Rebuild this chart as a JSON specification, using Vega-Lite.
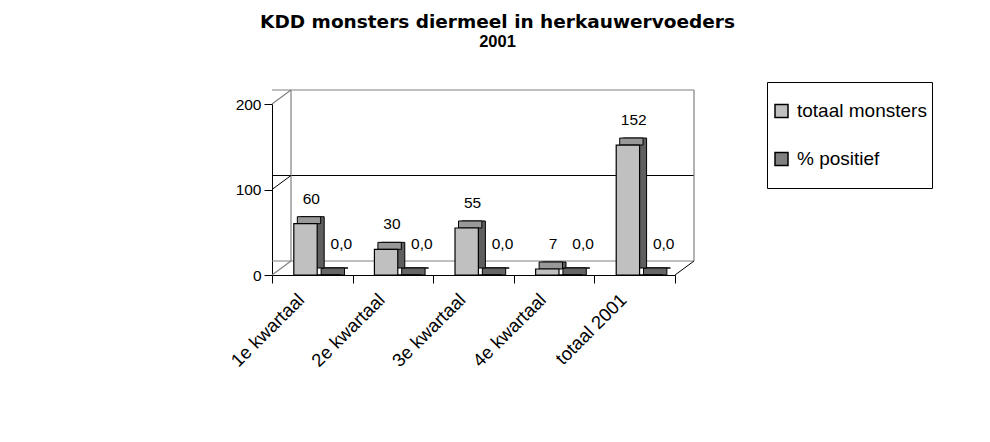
{
  "$schema": "https://vega.github.io/schema/vega-lite/v6.json",
  "width": 403,
  "height": 171,
  "autosize": "none",
  "padding": {"left": 272, "top": 104, "right": 315, "bottom": 167},
  "background": "white",
  "config": {
    "view": {"stroke": null},
    "font": "Liberation Sans",
    "locale": {"number": {"decimal": ",", "thousands": ".", "grouping": [3], "currency": ["€ ", ""]}},
    "axis": {"title": null, "grid": false, "domainColor": "black", "tickColor": "black", "labelColor": "black", "tickSize": 8, "labelFont": "Liberation Sans"},
    "axisX": {"labelAngle": -45, "labelAlign": "right", "labelBaseline": "top", "labelFontSize": 18.5, "labelOffset": -18, "labelPadding": 7, "tickBand": "extent"},
    "axisY": {"labelFontSize": 15.5, "labelPadding": 3, "tickCount": 2}
  },
  "title": {
    "text": "KDD monsters diermeel in herkauwervoeders",
    "subtitle": "2001",
    "font": "DejaVu Sans",
    "fontSize": 18.5,
    "fontWeight": "bold",
    "color": "black",
    "subtitleFont": "Liberation Sans",
    "subtitleFontSize": 16.5,
    "subtitleFontWeight": "bold",
    "subtitleColor": "black",
    "subtitlePadding": 3,
    "anchor": "middle",
    "dx": 24,
    "offset": 31
  },
  "data": {
    "values": [
      {"kwartaal": "1e kwartaal", "reeks": "totaal monsters", "waarde": 60},
      {"kwartaal": "2e kwartaal", "reeks": "totaal monsters", "waarde": 30},
      {"kwartaal": "3e kwartaal", "reeks": "totaal monsters", "waarde": 55},
      {"kwartaal": "4e kwartaal", "reeks": "totaal monsters", "waarde": 7},
      {"kwartaal": "totaal 2001", "reeks": "totaal monsters", "waarde": 152},
      {"kwartaal": "1e kwartaal", "reeks": "% positief", "waarde": 0},
      {"kwartaal": "2e kwartaal", "reeks": "% positief", "waarde": 0},
      {"kwartaal": "3e kwartaal", "reeks": "% positief", "waarde": 0},
      {"kwartaal": "4e kwartaal", "reeks": "% positief", "waarde": 0},
      {"kwartaal": "totaal 2001", "reeks": "% positief", "waarde": 0}
    ]
  },
  "layer": [
    {
      "data": {"values": [{"g": 0}, {"g": 200}]},
      "mark": {"type": "rule", "color": "#808080", "strokeWidth": 1.2, "xOffset": 19, "x2Offset": 19, "yOffset": -14},
      "encoding": {"y": {"field": "g", "type": "quantitative", "title": null, "scale": {"domain": [0, 200]}}}
    },
    {
      "data": {"values": [{"g": 100}]},
      "mark": {"type": "rule", "color": "black", "strokeWidth": 1, "xOffset": 19, "x2Offset": 19, "yOffset": -14},
      "encoding": {"y": {"field": "g", "type": "quantitative", "title": null}}
    },
    {
      "data": {"values": [{}]},
      "mark": {"type": "rule", "color": "#808080", "strokeWidth": 1.2, "xOffset": 19, "yOffset": -14, "y2Offset": -14},
      "encoding": {
        "x": {"datum": "1e kwartaal", "bandPosition": 0, "title": null,
              "scale": {"domain": ["1e kwartaal", "2e kwartaal", "3e kwartaal", "4e kwartaal", "totaal 2001"], "paddingInner": 0, "paddingOuter": 0}},
        "y": {"datum": 0, "title": null},
        "y2": {"datum": 200}
      }
    },
    {
      "data": {"values": [{}]},
      "mark": {"type": "rule", "color": "#808080", "strokeWidth": 1.2, "xOffset": 19, "yOffset": -14, "y2Offset": -14},
      "encoding": {
        "x": {"datum": "totaal 2001", "bandPosition": 1, "title": null},
        "y": {"datum": 0, "title": null},
        "y2": {"datum": 200}
      }
    },
    {
      "data": {"values": [{"g": 0}, {"g": 200}]},
      "mark": {"type": "rule", "color": "#808080", "strokeWidth": 1.2, "x2Offset": 19, "y2Offset": -14},
      "encoding": {
        "x": {"datum": "1e kwartaal", "bandPosition": 0, "title": null},
        "x2": {"datum": "1e kwartaal", "bandPosition": 0},
        "y": {"field": "g", "type": "quantitative", "title": null},
        "y2": {"field": "g"}
      }
    },
    {
      "data": {"values": [{"g": 100}]},
      "mark": {"type": "rule", "color": "black", "strokeWidth": 1, "x2Offset": 19, "y2Offset": -14},
      "encoding": {
        "x": {"datum": "1e kwartaal", "bandPosition": 0, "title": null},
        "x2": {"datum": "1e kwartaal", "bandPosition": 0},
        "y": {"field": "g", "type": "quantitative", "title": null},
        "y2": {"field": "g"}
      }
    },
    {
      "data": {"values": [{"g": 0}]},
      "mark": {"type": "rule", "color": "black", "strokeWidth": 1, "x2Offset": 19, "y2Offset": -14},
      "encoding": {
        "x": {"datum": "totaal 2001", "bandPosition": 1, "title": null},
        "x2": {"datum": "totaal 2001", "bandPosition": 1},
        "y": {"field": "g", "type": "quantitative", "title": null},
        "y2": {"field": "g"}
      }
    },
    {
      "transform": [{"filter": "datum.reeks === '% positief'"}],
      "mark": {"type": "bar", "width": {"band": 0.29}, "xOffset": 24, "yOffset": -7, "y2Offset": -7, "fill": "#404040", "stroke": "black", "strokeWidth": 1},
      "encoding": {
        "x": {"field": "kwartaal", "type": "nominal", "sort": null, "title": null},
        "y": {"field": "waarde", "type": "quantitative", "title": null}
      }
    },
    {
      "transform": [{"filter": "datum.reeks === '% positief'"}],
      "mark": {"type": "bar", "width": {"band": 0.29}, "xOffset": 20.5, "yOffset": -7, "fill": "#666666", "stroke": "black", "strokeWidth": 1},
      "encoding": {
        "x": {"field": "kwartaal", "type": "nominal", "sort": null, "title": null},
        "y": {"field": "waarde", "type": "quantitative", "title": null},
        "y2": {"field": "waarde"}
      }
    },
    {
      "transform": [{"filter": "datum.reeks === '% positief'"}],
      "mark": {"type": "bar", "width": {"band": 0.29}, "xOffset": 16.6, "stroke": "black", "strokeWidth": 1},
      "encoding": {
        "x": {"field": "kwartaal", "type": "nominal", "sort": null, "title": null},
        "y": {"field": "waarde", "type": "quantitative", "title": null},
        "fill": {
          "field": "reeks", "type": "nominal",
          "scale": {"domain": ["totaal monsters", "% positief"], "range": ["#c0c0c0", "#808080"]},
          "legend": {
            "title": null, "orient": "none", "legendX": 495, "legendY": -22, "direction": "vertical",
            "labelFont": "Liberation Sans", "labelFontSize": 19, "labelColor": "black", "labelLimit": 300,
            "symbolType": "square", "symbolSize": 169, "symbolStrokeColor": "black", "symbolStrokeWidth": 1.5,
            "labelOffset": 6, "padding": 5, "clipHeight": 48, "rowPadding": 0,
            "strokeColor": "black", "fillColor": "white"
          }
        }
      }
    },
    {
      "transform": [{"filter": "datum.reeks === 'totaal monsters'"}],
      "mark": {"type": "bar", "width": {"band": 0.29}, "xOffset": 0.2, "yOffset": -7, "y2Offset": -7, "fill": "#5f5f5f", "stroke": "black", "strokeWidth": 1},
      "encoding": {
        "x": {"field": "kwartaal", "type": "nominal", "sort": null, "title": null},
        "y": {"field": "waarde", "type": "quantitative", "title": null}
      }
    },
    {
      "transform": [{"filter": "datum.reeks === 'totaal monsters'"}],
      "mark": {"type": "bar", "width": {"band": 0.29}, "xOffset": -3.3, "yOffset": -7, "fill": "#999999", "stroke": "black", "strokeWidth": 1},
      "encoding": {
        "x": {"field": "kwartaal", "type": "nominal", "sort": null, "title": null},
        "y": {"field": "waarde", "type": "quantitative", "title": null},
        "y2": {"field": "waarde"}
      }
    },
    {
      "transform": [{"filter": "datum.reeks === 'totaal monsters'"}],
      "mark": {"type": "bar", "width": {"band": 0.29}, "xOffset": -6.8, "stroke": "black", "strokeWidth": 1.2},
      "encoding": {
        "x": {"field": "kwartaal", "type": "nominal", "sort": null, "title": null},
        "y": {"field": "waarde", "type": "quantitative", "title": null},
        "fill": {"field": "reeks", "type": "nominal"}
      }
    },
    {
      "transform": [{"filter": "datum.reeks === 'totaal monsters'"}],
      "mark": {"type": "text", "fontSize": 15.5, "baseline": "alphabetic", "dy": -20, "dx": -1, "color": "black"},
      "encoding": {
        "x": {"field": "kwartaal", "type": "nominal", "sort": null, "title": null},
        "y": {"field": "waarde", "type": "quantitative", "title": null},
        "text": {"field": "waarde", "type": "quantitative", "format": "d"}
      }
    },
    {
      "transform": [{"filter": "datum.reeks === '% positief'"}],
      "mark": {"type": "text", "fontSize": 15.5, "baseline": "alphabetic", "dy": -26, "dx": 29, "color": "black"},
      "encoding": {
        "x": {"field": "kwartaal", "type": "nominal", "sort": null, "title": null},
        "y": {"field": "waarde", "type": "quantitative", "title": null},
        "text": {"field": "waarde", "type": "quantitative", "format": ".1f"}
      }
    }
  ]
}
